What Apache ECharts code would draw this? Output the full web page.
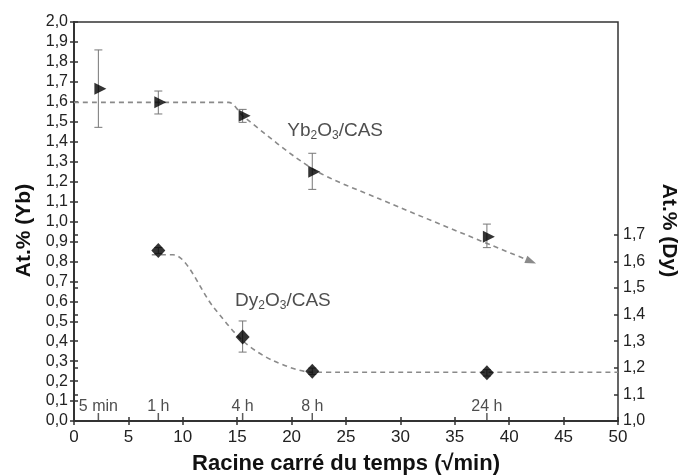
<!DOCTYPE html>
<html>
<head>
<meta charset="utf-8">
<script src="https://cdn.jsdelivr.net/npm/echarts@6/dist/echarts.min.js"></script>
<style>
  html, body { margin: 0; padding: 0; background: #fff; }
  #chart { width: 680px; height: 475px; }
</style>
</head>
<body>
<div id="chart"></div>
<script>
// Yb2O3/CAS (axe gauche)
var ybX = [2.24, 7.75, 15.5, 21.9, 37.95];
var ybY = [1.665, 1.598, 1.53, 1.25, 0.924];
var ybLo = [1.472, 1.539, 1.497, 1.161, 0.869];
var ybHi = [1.86, 1.654, 1.562, 1.342, 0.987];
var ybTrend = [[0, 1.597], [14.2, 1.597], [15.6, 1.525], [22, 1.262], [28, 1.115], [42, 0.80]];

// Dy2O3/CAS (axe droit)
var dyX = [7.75, 15.5, 21.9, 37.95];
var dyY = [1.641, 1.316, 1.187, 1.181];
var dyLo = [1.630, 1.259, 1.175, 1.169];
var dyHi = [1.652, 1.376, 1.199, 1.193];
var dyTrend = [[7.15, 1.625], [9.1, 1.625], [12.8, 1.429], [15.55, 1.30], [18.3, 1.227], [22, 1.183], [50, 1.183]];
var dyTicks = [1.0, 1.1, 1.2, 1.3, 1.4, 1.5, 1.6, 1.7];

// repères de temps
var timeX = [2.24, 7.75, 15.5, 21.9, 37.95];
var timeLabels = ['5 min', '1 h', '4 h', '8 h', '24 h'];

var FONT = 'Liberation Sans';
var AXIS = '#333';

function comma(v) {
    return v.toFixed(1).replace('.', ',');
}

function zip(xs, ys) {
    return xs.map(function(x, i) { return [x, ys[i]]; });
}

function errRender(params, api) {
    var x = api.value(0);
    var top = api.coord([x, api.value(2)]);
    var bot = api.coord([x, api.value(1)]);
    var w = 4;
    var st = { stroke: '#777', lineWidth: 1 };
    return {
        type: 'group',
        children: [
            { type: 'line', shape: { x1: top[0], y1: top[1], x2: bot[0], y2: bot[1] }, style: st },
            { type: 'line', shape: { x1: top[0] - w, y1: top[1], x2: top[0] + w, y2: top[1] }, style: st },
            { type: 'line', shape: { x1: bot[0] - w, y1: bot[1], x2: bot[0] + w, y2: bot[1] }, style: st }
        ]
    };
}

var ybTrendData = ybTrend.map(function(p, i) {
    if (i === ybTrend.length - 1) {
        return { value: p, symbol: 'triangle', symbolSize: [8, 11], symbolRotate: -112,
                 itemStyle: { color: '#8a8a8a' } };
    }
    return { value: p, symbol: 'none' };
});

var chart = echarts.init(document.getElementById('chart'));
chart.setOption({
    animation: false,
    backgroundColor: '#fff',
    textStyle: { fontFamily: FONT },
    grid: { left: 74, right: 62, top: 22, bottom: 54, show: true, outerBoundsMode: 'none',
            borderColor: AXIS, borderWidth: 1.5 },
    xAxis: [{
        type: 'value', min: 0, max: 50, interval: 5,
        axisLine: { lineStyle: { color: AXIS, width: 2 } },
        axisTick: { length: 4, lineStyle: { color: AXIS, width: 1.5 } },
        axisLabel: { color: '#222', fontSize: 17, margin: 8 },
        splitLine: { show: false },
        name: 'Racine carré du temps (√min)', nameLocation: 'middle', nameGap: 32,
        nameTextStyle: { fontSize: 22, fontWeight: 'bold', color: '#111' }
    }, {
        type: 'value', min: 0, max: 50, interval: 5, position: 'bottom',
        axisLine: { show: false },
        axisTick: { inside: true, length: 4, lineStyle: { color: AXIS, width: 1.5 } },
        axisLabel: { show: false }, splitLine: { show: false }
    }],
    yAxis: [{
        type: 'value', min: 0, max: 2, interval: 0.1, position: 'left',
        axisLine: { show: true, lineStyle: { color: AXIS, width: 2 } },
        axisTick: { show: true, length: 4, lineStyle: { color: AXIS, width: 1.5 } },
        axisLabel: { color: '#222', fontSize: 16, margin: 6, formatter: comma },
        splitLine: { show: false },
        name: 'At.% (Yb)', nameLocation: 'middle', nameGap: 39,
        nameTextStyle: { fontSize: 21, fontWeight: 'bold', color: '#111', padding: [0, 0, 0, -18] }
    }, {
        type: 'value', min: 1.0, max: 2.5, interval: 0.1, position: 'right',
        axisLine: { show: true, lineStyle: { color: AXIS, width: 2 } },
        axisTick: { show: true, length: 4, customValues: dyTicks, lineStyle: { color: AXIS, width: 1.5 } },
        axisLabel: { color: '#222', fontSize: 16, margin: 5, customValues: dyTicks, formatter: comma },
        splitLine: { show: false },
        name: 'At.% (Dy)', nameLocation: 'middle', nameGap: 40, nameRotate: -90,
        nameTextStyle: { fontSize: 21, fontWeight: 'bold', color: '#111', padding: [0, 0, 0, 18] }
    }, {
        type: 'value', min: 0, max: 2, interval: 0.1, position: 'left',
        axisLine: { show: false },
        axisTick: { show: true, inside: true, length: 4, lineStyle: { color: AXIS, width: 1.5 } },
        axisLabel: { show: false }, splitLine: { show: false }
    }, {
        type: 'value', min: 1.0, max: 2.5, interval: 0.1, position: 'right',
        axisLine: { show: false },
        axisTick: { show: true, inside: true, length: 4, customValues: dyTicks, lineStyle: { color: AXIS, width: 1.5 } },
        axisLabel: { show: false }, splitLine: { show: false }
    }],
    series: [{
        name: 'Yb tendance', type: 'line', xAxisIndex: 0, yAxisIndex: 0, z: 1,
        data: ybTrendData, smooth: 0.3, showSymbol: true,
        lineStyle: { color: '#8a8a8a', width: 1.6, type: [5, 4] }
    }, {
        name: 'Dy tendance', type: 'line', xAxisIndex: 0, yAxisIndex: 1, z: 1,
        data: dyTrend, smooth: 0.3, symbol: 'none',
        lineStyle: { color: '#8a8a8a', width: 1.6, type: [5, 4] }
    }, {
        name: 'Yb err', type: 'custom', xAxisIndex: 0, yAxisIndex: 0, z: 2,
        renderItem: errRender,
        data: ybX.map(function(x, i) { return [x, ybLo[i], ybHi[i]]; })
    }, {
        name: 'Dy err', type: 'custom', xAxisIndex: 0, yAxisIndex: 1, z: 2,
        renderItem: errRender,
        data: dyX.map(function(x, i) { return [x, dyLo[i], dyHi[i]]; })
    }, {
        name: 'Yb2O3/CAS', type: 'scatter', xAxisIndex: 0, yAxisIndex: 0, z: 3,
        symbol: 'triangle', symbolRotate: -90, symbolSize: [12, 12], symbolOffset: [2, 0],
        itemStyle: { color: '#000' },
        data: zip(ybX, ybY)
    }, {
        name: 'Dy2O3/CAS', type: 'scatter', xAxisIndex: 0, yAxisIndex: 1, z: 3,
        symbol: 'diamond', symbolSize: [14, 15],
        itemStyle: { color: '#000' },
        data: zip(dyX, dyY)
    }, {
        name: 'temps', type: 'scatter', xAxisIndex: 0, yAxisIndex: 0, z: 3,
        symbol: 'rect', symbolSize: [1.5, 8], symbolOffset: [0, -4],
        itemStyle: { color: AXIS },
        label: {
            show: true, position: 'top', distance: -2, fontSize: 16, color: '#222',
            formatter: function(p) { return timeLabels[p.dataIndex]; }
        },
        data: timeX.map(function(x) { return [x, 0]; })
    }, {
        name: 'etiquettes', type: 'scatter', xAxisIndex: 0, yAxisIndex: 0, z: 4,
        symbolSize: 0,
        label: {
            show: true, position: 'inside',
            formatter: function(p) { return p.data.t; },
            rich: {
                a: { fontSize: 19, color: '#222', fontFamily: FONT },
                b: { fontSize: 12, color: '#222', fontFamily: FONT, padding: [10, 0, 0, 0] }
            }
        },
        data: [
            { value: [24.0, 1.455], t: '{a|Yb}{b|2}{a|O}{b|3}{a|/CAS}' },
            { value: [19.2, 0.605], t: '{a|Dy}{b|2}{a|O}{b|3}{a|/CAS}' }
        ]
    }]
});
</script>
</body>
</html>
